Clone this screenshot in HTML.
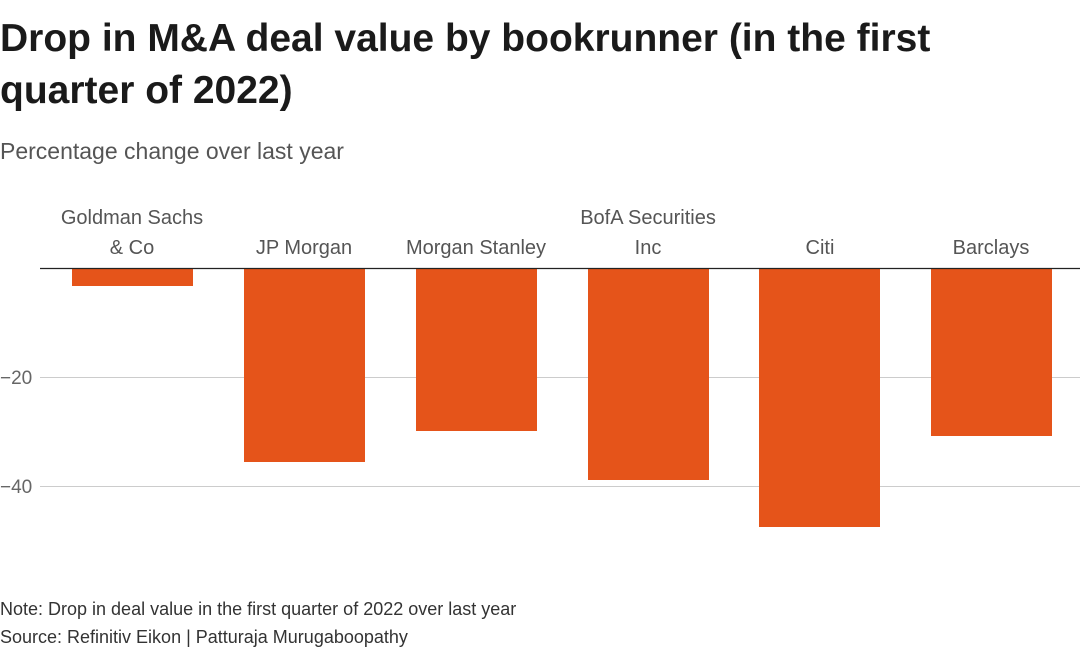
<!DOCTYPE html>
<html><head><meta charset="utf-8"><style>
body{margin:0;background:#fff;width:1080px;height:655px;overflow:hidden;font-family:"Liberation Sans",sans-serif;color:#333}
.t{position:absolute;left:0;top:13px;font-size:39px;font-weight:bold;line-height:52px;color:#1a1a1a;letter-spacing:0px}
.s{position:absolute;left:0;top:138px;font-size:23px;color:#555}
.n{position:absolute;left:0;font-size:18px;color:#333}
</style></head><body>
<div class="t">Drop in M&amp;A deal value by bookrunner (in the first<br>quarter of 2022)</div>
<div class="s">Percentage change over last year</div>
<svg width="1080" height="655" style="position:absolute;left:0;top:0">
<g stroke="#ccc" stroke-width="1"><line x1="40" y1="377.5" x2="1080" y2="377.5"/><line x1="40" y1="486.5" x2="1080" y2="486.5"/></g>
<g font-size="19" fill="#666" font-family="Liberation Sans,sans-serif"><text x="0" y="384">−20</text><text x="0" y="493">−40</text></g>
<g fill="#e5541a">
<rect x="72" y="268" width="121" height="18"/>
<rect x="244" y="268" width="121" height="194"/>
<rect x="416" y="268" width="121" height="163"/>
<rect x="588" y="268" width="121" height="212"/>
<rect x="759" y="268" width="121" height="259"/>
<rect x="931" y="268" width="121" height="168"/>
</g>
<line x1="40" y1="268.5" x2="1080" y2="268.5" stroke="#222" stroke-width="1.2"/>
<g font-size="20" fill="#555" text-anchor="middle" font-family="Liberation Sans,sans-serif">
<text x="132" y="224">Goldman Sachs</text><text x="132" y="254">&amp; Co</text>
<text x="304" y="254">JP Morgan</text>
<text x="476" y="254">Morgan Stanley</text>
<text x="648" y="224">BofA Securities</text><text x="648" y="254">Inc</text>
<text x="820" y="254">Citi</text>
<text x="991" y="254">Barclays</text>
</g></svg>
<div class="n" style="top:599px">Note: Drop in deal value in the first quarter of 2022 over last year</div>
<div class="n" style="top:627px">Source: Refinitiv Eikon | Patturaja Murugaboopathy</div>
</body></html>
